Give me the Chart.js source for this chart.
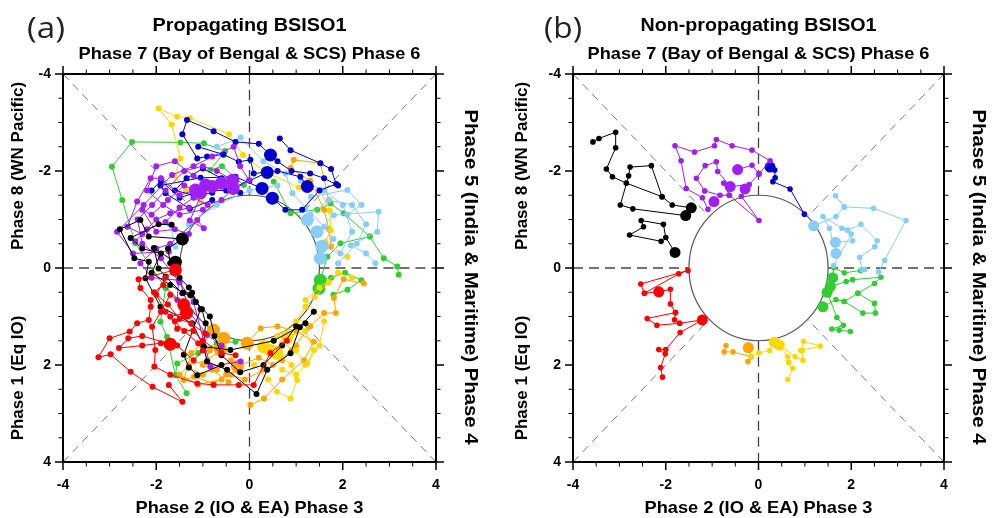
<!DOCTYPE html>
<html>
<head>
<meta charset="utf-8">
<script src="https://cdn.jsdelivr.net/npm/chart.js@4.4.1/dist/chart.umd.min.js"></script>
<style>
html, body { margin: 0; padding: 0; background: #fff; }
#wrap { position: relative; width: 992px; height: 518px; }
canvas { position: absolute; top: 0; }
#cA { left: 0; }
#cB { left: 496px; }
</style>
</head>
<body>
<div id="wrap">
  <canvas id="cA" width="496" height="518"></canvas>
  <canvas id="cB" width="496" height="518"></canvas>
</div>
<script>
// axis setup
const axisMin = -4, axisMax = 4;
const tickValues = [-4, -2, 0, 2, 4];
const minorStep = 0.5;
const innerRadius = 1.5;

// phase colours
const cRed = '#ff0000', cOrange = '#ffa500', cGold = '#ffd700', cGreen = '#32cd32';
const cSky = '#87cefa', cBlue = '#0000cd', cPurple = '#a020f0', cBlack = '#000000';

// ---- (a) propagating: tracks [RMM1, RMM2] and big start dots ----
const aRedTracks = [
  [[-1.59,0.04],[-2.38,0.23],[-2.34,0.41],[-2.12,0.66],[-2.12,0.80],[-2.16,1.07],[-2.41,1.14],[-2.57,1.31],[-3.00,1.45],[-3.24,1.84],[-2.98,1.78],[-2.55,2.14],[-2.08,2.45],[-1.44,2.76],[-1.73,2.41]],
  [[-1.41,0.76],[-1.70,0.55],[-1.90,0.90],[-2.09,1.21],[-2.02,1.69],[-2.04,2.03],[-1.70,2.20],[-1.12,2.38],[-0.77,2.41],[-0.23,2.41],[0.09,2.41],[0.45,1.75],[0.80,1.50]],
  [[-1.70,1.57],[-2.30,1.40],[-2.60,1.45],[-2.80,1.65],[-2.30,1.60],[-1.90,1.55],[-1.55,1.60],[-1.20,1.90],[-1.00,1.70]],
  [[-1.35,0.93],[-1.70,1.00],[-1.55,1.25],[-1.20,1.30],[-1.00,1.50],[-0.60,1.75],[-0.30,1.80]],
  [[-1.41,0.76],[-1.85,0.35],[-2.05,0.50],[-1.75,0.75],[-1.50,1.05],[-1.25,1.15],[-0.95,1.35]],
  [[-1.59,0.04],[-1.80,0.20],[-2.00,0.55],[-1.80,0.90],[-1.60,1.10],[-1.40,1.30],[-1.10,1.55]]
];
const aRedBig = [[-1.59,0.04],[-1.41,0.76],[-1.35,0.93],[-1.70,1.57]];

const aOrangeTracks = [
  [[-0.77,1.28],[-1.00,1.55],[-1.25,1.75],[-1.41,2.31],[-1.19,2.24],[-0.77,2.38],[-0.50,2.20],[-0.20,2.10]],
  [[-0.62,1.69],[-0.90,1.90],[-1.30,2.00],[-1.50,2.20],[-1.10,2.40],[-0.60,2.30]],
  [[-0.05,1.55],[0.24,1.24],[0.60,1.20],[1.00,1.30],[1.38,1.52],[1.17,1.90],[0.70,2.30],[0.31,2.69],[0.02,2.82]],
  [[-0.26,2.03],[0.20,1.85],[0.50,2.00],[0.90,1.70],[1.30,1.20],[1.60,0.93],[1.85,0.93],[1.81,0.62],[2.02,0.23],[2.45,0.32]],
  [[1.70,-1.40],[1.52,-2.16],[0.95,-2.23],[0.88,-2.06],[1.30,-1.80],[1.60,-1.20],[1.70,-0.80],[1.75,-0.45]],
  [[-0.55,1.45],[-0.85,1.70],[-1.00,2.00],[-0.70,2.10],[-0.40,1.90]],
  [[-0.40,2.20],[-0.10,2.30],[0.30,2.10],[0.70,1.90],[1.00,1.60]],
  [[-1.30,2.05],[-1.00,2.20],[-0.80,2.10],[-0.45,2.35]]
];
const aOrangeBig = [[-0.77,1.28],[-0.62,1.69],[-0.26,2.03],[-0.05,1.55],[-0.55,1.45]];

const aGoldTracks = [
  [[0.59,1.76],[0.90,2.00],[1.02,2.31],[0.88,2.69],[0.59,2.55],[0.40,2.30],[0.10,2.00]],
  [[0.81,1.42],[1.20,1.30],[1.38,1.69],[1.24,1.97],[1.50,1.60],[1.60,1.10],[1.20,0.66],[1.50,0.40],[1.90,0.10],[2.20,0.20]],
  [[0.30,1.62],[0.60,1.40],[1.00,1.10],[1.20,0.80],[1.40,0.60],[1.70,0.30]],
  [[2.10,-0.23],[1.63,-0.54],[1.74,-0.78],[1.72,-1.18],[1.52,-1.61],[1.06,-1.66],[0.30,-2.00],[-0.14,-2.33],[-0.44,-2.76],[-1.28,-3.09],[-1.55,-3.12],[-1.95,-3.29],[-1.67,-2.96],[-1.48,-2.26],[-1.61,-1.90],[-1.37,-1.61],[-1.05,-1.38]],
  [[0.45,1.70],[0.70,1.55],[1.00,1.70],[1.20,2.00],[1.00,2.20],[0.70,2.10]]
];
const aGoldBig = [[0.59,1.76],[0.81,1.42],[0.30,1.62],[0.45,1.70]];

const aGreenTracks = [
  [[1.52,0.25],[1.67,-0.23],[1.95,-0.51],[2.58,-0.65],[2.88,-0.20],[3.17,-0.03],[3.20,0.14]],
  [[1.49,0.42],[1.75,0.20],[2.05,0.10],[2.40,0.25],[2.10,0.45],[1.80,0.55]],
  [[-1.35,2.58],[-1.59,2.21],[-1.77,1.42],[-1.91,1.11],[-1.80,0.42],[-2.45,-0.51],[-2.73,-1.40],[-2.95,-2.09],[-2.52,-2.60],[-1.48,-2.59],[-0.98,-2.57],[-0.52,-2.41],[-0.84,-2.02],[-0.59,-2.10],[-0.12,-1.71]],
  [[2.58,-0.65],[2.02,-1.13],[1.74,-1.33],[1.45,-1.20],[0.88,-1.13],[0.52,-1.78]],
  [[-1.59,2.21],[-1.55,1.97],[-1.10,1.75],[-0.70,1.55],[-0.30,1.52]]
];
const aGreenBig = [[1.52,0.25],[1.49,0.42]];

const aSkyTracks = [
  [[1.45,-0.75],[1.81,-1.09],[2.77,-1.16],[2.74,-0.75],[2.17,-0.47],[2.50,-0.30],[2.70,-0.10]],
  [[1.24,-0.99],[1.20,-1.23],[1.32,-1.47],[2.10,-1.61],[2.40,-1.30],[2.10,-1.10]],
  [[1.52,-0.20],[1.80,-0.60],[1.60,-0.85],[0.92,-1.54],[0.77,-1.95],[0.30,-2.20],[-0.19,-2.69],[-0.70,-2.50]],
  [[-1.70,-0.89],[-1.59,-0.44],[-1.30,-0.90],[-0.70,-1.30],[0.00,-1.60],[0.60,-1.70]],
  [[1.55,-0.45],[1.95,-0.30],[2.20,-0.75],[2.00,-1.30],[1.60,-1.60],[1.10,-1.80]],
  [[1.30,-1.10],[1.70,-1.40],[2.20,-1.30],[2.50,-0.90],[2.30,-0.50],[1.90,-0.10]]
];
const aSkyBig = [[1.45,-0.75],[1.24,-0.99],[1.52,-0.20],[1.55,-0.45]];

const aBlueTracks = [
  [[0.45,-2.33],[0.20,-2.56],[-0.30,-2.60],[-0.77,-2.82],[-1.34,-3.05],[-1.44,-2.76],[-1.12,-2.26],[-0.91,-2.30],[-0.56,-2.34]],
  [[0.27,-1.64],[-0.30,-1.88],[-1.05,-1.86],[-1.91,-1.70],[-1.80,-1.54],[-1.28,-1.22],[-0.80,-1.40]],
  [[0.49,-1.44],[0.77,-1.20],[1.13,-1.20],[1.50,-1.60],[1.86,-1.73],[1.75,-2.04],[1.52,-2.16],[0.88,-2.43],[0.65,-2.67]],
  [[1.24,-1.68],[1.09,-1.88],[0.60,-2.00],[0.09,-1.95],[0.02,-2.23],[-0.23,-2.19],[-0.56,-2.34],[-1.10,-2.50]],
  [[0.38,-1.97],[0.00,-1.80],[-0.50,-1.60],[-1.00,-1.60],[-1.50,-1.45],[-1.90,-1.80],[-2.10,-1.60]],
  [[-0.20,-1.55],[-0.60,-1.85],[-1.00,-2.05],[-1.35,-1.85],[-1.60,-1.60],[-1.20,-1.50],[-0.80,-1.55]],
  [[0.60,-2.20],[0.90,-2.00],[1.30,-1.95],[1.60,-1.85],[1.90,-1.70]]
];
const aBlueBig = [[0.45,-2.33],[0.27,-1.64],[0.49,-1.44],[1.24,-1.68],[0.38,-1.97]];

const aPurpleTracks = [
  [[-1.16,-1.61],[-1.50,-1.50],[-1.90,-1.85],[-2.12,-1.85],[-2.41,-1.37],[-2.62,-0.85],[-2.30,-0.70],[-2.00,-1.00],[-1.70,-1.13],[-1.30,-1.25]],
  [[-0.94,-1.71],[-1.28,-0.98],[-0.98,-0.82],[-1.12,-0.99],[-1.70,-0.50],[-2.00,-0.40],[-2.34,-0.10],[-2.10,0.20],[-1.52,0.25],[-1.55,0.66],[-1.30,0.90],[-0.91,1.38],[-0.60,1.60]],
  [[-0.60,-1.75],[-0.34,-1.61],[-0.01,-1.81],[-0.20,-2.10],[-0.34,-2.50],[-0.80,-2.30],[-1.20,-2.10],[-1.66,-1.92],[-2.27,-1.30],[-2.84,-0.75],[-2.50,-0.30],[-1.73,-0.34]],
  [[-0.36,-1.81],[-0.70,-2.00],[-1.00,-2.10],[-1.40,-2.00],[-1.80,-1.60],[-2.09,-1.30],[-2.40,-1.00],[-2.30,-0.50],[-1.90,-0.20],[-1.50,0.30],[-1.20,0.70],[-0.84,2.03],[-0.19,1.93]],
  [[-0.80,-1.68],[-1.20,-1.90],[-1.60,-2.20],[-2.00,-2.10],[-2.20,-1.60],[-1.85,-1.30],[-1.50,-1.10],[-1.00,-1.20]],
  [[-1.05,-1.55],[-1.40,-1.70],[-1.75,-1.40],[-2.10,-1.10],[-2.30,-1.20],[-2.00,-0.75],[-1.60,-0.80],[-1.30,-0.70]],
  [[-0.35,-1.64],[-0.60,-1.40],[-0.90,-1.30],[-1.20,-1.45],[-1.50,-1.25],[-1.80,-0.95],[-2.20,-0.80],[-2.45,-0.55]]
];
const aPurpleBig = [[-1.16,-1.61],[-0.94,-1.71],[-0.60,-1.75],[-0.36,-1.81],[-0.80,-1.68],[-1.05,-1.55],[-0.35,-1.64]];

const aBlackTracks = [
  [[-1.44,-0.60],[-2.16,-0.65],[-2.34,-0.99],[-2.78,-0.80],[-2.47,-0.20],[-2.16,-0.13],[-2.23,0.21],[-1.91,0.80],[-1.23,1.14],[-0.98,1.62],[-0.91,1.93],[-0.48,2.10],[0.15,2.60],[0.38,2.10],[0.88,1.76],[1.08,1.22],[1.38,0.90]],
  [[-1.59,-0.12],[-2.05,-0.41],[-1.95,0.01],[-1.80,0.18],[-1.44,0.52],[-1.27,0.56],[-1.02,0.85],[-0.94,1.14],[-0.99,1.62],[-0.41,1.69],[0.52,1.50],[1.20,1.14]],
  [[-1.67,-0.89],[-1.95,-0.90],[-2.55,-0.62],[-2.30,-0.40],[-1.90,-0.30],[-2.10,0.10],[-1.70,0.35],[-1.42,0.51],[-1.23,0.51],[-1.05,0.85],[-1.41,1.79],[-1.30,2.05],[-1.12,2.21],[-0.60,2.00]],
  [[-1.44,-0.60],[-1.75,-0.40],[-1.70,-0.10],[-1.50,0.20],[-1.30,0.40],[-1.15,0.70],[-0.85,1.00],[-0.75,1.40],[-0.60,1.80],[-0.20,2.15],[0.30,2.00],[0.70,1.60],[1.00,1.20]]
];
const aBlackBig = [[-1.44,-0.60],[-1.59,-0.12]];

// ---- (b) non-propagating ----
const bRedTracks = [
  [[-2.15,0.49],[-2.46,0.52],[-2.54,0.33],[-1.52,0.05],[-1.72,0.12],[-2.46,0.52]],
  [[-1.21,1.07],[-1.70,1.14],[-1.81,1.07],[-1.79,0.92],[-1.90,0.74],[-1.90,0.44],[-2.15,0.49]],
  [[-1.21,1.07],[-1.69,1.33],[-2.00,1.68],[-2.15,1.68],[-2.01,1.77],[-2.11,2.05],[-2.07,2.25]],
  [[-1.79,0.92],[-2.40,1.04],[-2.19,1.18],[-1.70,1.14]]
];
const bRedBig = [[-2.15,0.49],[-1.21,1.07]];

const bOrangeTracks = [
  [[-0.22,1.64],[-0.16,1.83],[-0.23,1.93]],
  [[-0.16,1.83],[-0.55,1.73],[-0.74,1.73],[-0.70,1.60]]
];
const bOrangeBig = [[-0.22,1.64]];

const bGoldTracks = [
  [[0.34,1.53],[0.24,1.70],[0.01,1.75],[-0.16,1.83]],
  [[0.45,1.59],[0.63,1.83],[0.65,1.95],[0.74,2.07],[0.63,2.30]],
  [[0.45,1.59],[0.79,1.83],[0.96,1.90],[0.94,1.70],[0.97,1.51],[1.33,1.61],[0.91,1.70]]
];
const bGoldBig = [[0.34,1.53],[0.45,1.59]];

const bGreenTracks = [
  [[1.39,0.80],[1.67,0.65],[1.85,0.69],[2.14,0.52],[2.50,0.73],[2.52,0.93],[2.25,0.93],[1.85,0.69]],
  [[1.55,0.38],[1.89,0.28],[2.03,0.24],[2.64,0.19],[2.50,0.32],[2.14,0.52]],
  [[1.48,0.50],[1.69,1.02],[1.83,1.18],[1.58,1.26],[1.74,1.28],[1.98,1.31]],
  [[1.60,0.20],[1.62,-0.01],[1.85,0.10],[2.20,0.05]]
];
const bGreenBig = [[1.60,0.20],[1.55,0.38],[1.48,0.50],[1.39,0.80]];

const bSkyTracks = [
  [[1.19,-0.87],[1.67,-1.06],[1.85,-1.26],[1.66,-1.49],[1.85,-1.26],[2.48,-1.23],[3.18,-0.98],[2.72,-0.16],[2.59,0.08]],
  [[1.66,-0.53],[2.03,-0.56],[1.92,-0.78],[2.21,-0.90],[2.56,-0.56],[2.51,-0.44],[2.18,-0.22],[2.23,0.03],[2.29,0.03]],
  [[1.67,-0.30],[1.53,-0.82],[1.39,-1.06],[1.80,-0.82],[2.00,-0.70],[1.62,-0.05]]
];
const bSkyBig = [[1.19,-0.87],[1.66,-0.53],[1.67,-0.30]];

const bBlueTracks = [
  [[0.25,-2.08],[0.35,-2.02],[0.36,-1.86],[0.31,-1.78],[0.68,-1.63],[0.99,-1.11]]
];
const bBlueBig = [[0.25,-2.08]];

const bPurpleTracks = [
  [[-0.96,-1.37],[-1.09,-1.21],[-1.21,-1.45],[-1.56,-1.64],[-1.67,-2.21],[-1.80,-2.52],[-1.38,-2.39],[-0.95,-2.52],[-0.91,-2.65],[-0.57,-2.52],[-0.14,-2.43],[0.25,-2.21],[0.01,-1.94]],
  [[-0.61,-1.68],[-0.88,-1.99],[-0.91,-2.19],[-1.15,-2.11],[-1.34,-1.85],[-1.16,-1.59],[-0.83,-1.50],[-0.63,-1.50]],
  [[-0.29,-1.63],[-0.37,-1.48],[0.01,-0.98],[-0.63,-1.50],[-0.75,-1.75]],
  [[-0.45,-2.03],[-0.14,-2.12],[0.01,-1.94],[-0.20,-1.72],[-0.61,-1.68]]
];
const bPurpleBig = [[-0.96,-1.37],[-0.61,-1.68],[-0.29,-1.63],[-0.45,-2.03]];

const bBlackTracks = [
  [[-1.45,-1.24],[-1.86,-1.30],[-2.08,-1.47],[-2.85,-1.75],[-3.15,-1.88],[-3.28,-2.04],[-3.08,-2.48],[-3.08,-2.80],[-3.44,-2.67],[-3.57,-2.60]],
  [[-1.57,-1.08],[-2.71,-1.22],[-2.98,-1.30],[-2.80,-1.90],[-2.77,-2.08],[-2.31,-2.11],[-2.08,-1.47]],
  [[-1.80,-0.32],[-2.00,-0.63],[-2.05,-0.90],[-2.53,-0.98],[-2.48,-0.85],[-2.78,-0.68],[-2.10,-0.55]]
];
const bBlackBig = [[-1.45,-1.24],[-1.57,-1.08],[-1.80,-0.32]];

function buildSets(groups, small, big) {
  const sets = [];
  groups.forEach(([color, tracks, starts]) => {
    tracks.forEach(t => sets.push({
      data: t.map(([x, y]) => ({x, y})),
      showLine: true, borderColor: color, backgroundColor: color,
      borderWidth: 1, pointRadius: small, pointBorderWidth: 0
    }));
    sets.push({
      data: starts.map(([x, y]) => ({x, y})),
      showLine: false, backgroundColor: color, borderColor: color,
      pointRadius: big, pointBorderWidth: 0
    });
  });
  return sets;
}

function fitText(ctx, txt, x, y, w, font, rot) {
  ctx.save();
  ctx.font = font;
  const m = ctx.measureText(txt).width;
  ctx.translate(x, y);
  ctx.rotate(rot || 0);
  if (w) ctx.scale(w / m, 1);
  ctx.textAlign = 'center';
  ctx.fillText(txt, 0, 0);
  ctx.restore();
}

const phasePlot = {
  id: 'phasePlot',
  beforeDatasetsDraw(chart, args, o) {
    const {ctx, scales: {x, y}} = chart;
    const px = v => x.getPixelForValue(v), py = v => y.getPixelForValue(v);
    const seg = (x1, y1, x2, y2) => { ctx.beginPath(); ctx.moveTo(px(x1), py(y1)); ctx.lineTo(px(x2), py(y2)); ctx.stroke(); };
    ctx.save();
    ctx.setLineDash([10, 6]); ctx.strokeStyle = '#444'; ctx.lineWidth = 1.3;
    seg(0, axisMin, 0, -innerRadius); seg(0, innerRadius, 0, axisMax);
    seg(axisMin, 0, -innerRadius, 0); seg(innerRadius, 0, axisMax, 0);
    ctx.setLineDash([8, 6]); ctx.strokeStyle = '#777'; ctx.lineWidth = 1;
    const d = innerRadius / Math.SQRT2;
    [-1, 1].forEach(sx => [-1, 1].forEach(sy => seg(sx * axisMax, sy * axisMax, sx * d, sy * d)));
    ctx.setLineDash([]); ctx.strokeStyle = '#555'; ctx.lineWidth = 1.2;
    ctx.beginPath();
    ctx.ellipse(px(0), py(0), px(innerRadius) - px(0), py(innerRadius) - py(0), 0, 0, 2 * Math.PI);
    ctx.stroke();
    ctx.restore();
  },
  afterDraw(chart, args, o) {
    const {ctx, chartArea: a, scales: {x, y}} = chart;
    ctx.save();
    ctx.strokeStyle = '#000'; ctx.fillStyle = '#000';
    // ticks, outward on all four sides
    for (let v = axisMin; v <= axisMax + 1e-9; v += minorStep) {
      const major = tickValues.includes(v);
      const len = major ? 8 : 4.5;
      ctx.lineWidth = major ? 1.5 : 1;
      const X = x.getPixelForValue(v), Y = y.getPixelForValue(v);
      ctx.beginPath();
      ctx.moveTo(X, a.top); ctx.lineTo(X, a.top - len);
      ctx.moveTo(X, a.bottom); ctx.lineTo(X, a.bottom + len);
      ctx.moveTo(a.left, Y); ctx.lineTo(a.left - len, Y);
      ctx.moveTo(a.right, Y); ctx.lineTo(a.right + len, Y);
      ctx.stroke();
    }
    ctx.lineWidth = 2;
    ctx.strokeRect(a.left, a.top, a.right - a.left, a.bottom - a.top);
    // tick labels
    ctx.font = 'bold 14px "Liberation Sans", Arial, sans-serif';
    ctx.textBaseline = 'middle';
    ctx.textAlign = 'center';
    tickValues.forEach(v => ctx.fillText(String(v), x.getPixelForValue(v), a.bottom + 23));
    ctx.textAlign = 'right';
    tickValues.forEach(v => ctx.fillText(String(v), a.left - 12, y.getPixelForValue(v)));
    // texts
    const cx = (a.left + a.right) / 2;
    ctx.textBaseline = 'alphabetic';
    const f = 'bold 17px "Liberation Sans", Arial, sans-serif';
    fitText(ctx, o.title, cx, 31, o.titleW, 'bold 19px "Liberation Sans", Arial, sans-serif');
    fitText(ctx, 'Phase 7 (Bay of Bengal & SCS) Phase 6', cx, 59, 342, f);
    fitText(ctx, 'Phase 2 (IO & EA) Phase 3', cx, 513, 228, f);
    ctx.textBaseline = 'middle';
    fitText(ctx, 'Phase 8 (WN Pacific)', o.yLabX, 166, 0, f, -Math.PI / 2);
    fitText(ctx, 'Phase 1 (Eq IO)', o.yLabX, 378, 0, f, -Math.PI / 2);
    fitText(ctx, 'Phase 5 (India & Maritime) Phase 4', a.right + 34, 277, 335, 'bold 18px "Liberation Sans", Arial, sans-serif', Math.PI / 2);
    ctx.fillStyle = '#222';
    ctx.textBaseline = 'alphabetic';
    fitText(ctx, o.letter, o.letterX, 38, 38, '29px "Open Sans", "DejaVu Sans", sans-serif');
    ctx.restore();
  }
};

function makeChart(id, pad, groups, opts, small, big) {
  return new Chart(document.getElementById(id), {
    type: 'scatter',
    data: {datasets: buildSets(groups, small, big)},
    options: {
      responsive: false, animation: false, events: [],
      layout: {padding: pad},
      scales: {
        x: {type: 'linear', min: axisMin, max: axisMax, display: false},
        y: {type: 'linear', min: axisMin, max: axisMax, reverse: true, display: false}
      },
      plugins: {legend: {display: false}, tooltip: {enabled: false}, phasePlot: opts}
    },
    plugins: [phasePlot]
  });
}

makeChart('cA', {left: 63, right: 60, top: 74, bottom: 56}, [
  [cRed, aRedTracks, aRedBig], [cBlack, aBlackTracks, aBlackBig], [cPurple, aPurpleTracks, aPurpleBig],
  [cBlue, aBlueTracks, aBlueBig], [cSky, aSkyTracks, aSkyBig], [cGold, aGoldTracks, aGoldBig],
  [cOrange, aOrangeTracks, aOrangeBig], [cGreen, aGreenTracks, aGreenBig]
], {letter: '(a)', letterX: 46, title: 'Propagating BSISO1', titleW: 194, yLabX: 18}, 3, 6.5);

makeChart('cB', {left: 77, right: 48, top: 74, bottom: 56}, [
  [cRed, bRedTracks, bRedBig], [cBlack, bBlackTracks, bBlackBig], [cPurple, bPurpleTracks, bPurpleBig],
  [cBlue, bBlueTracks, bBlueBig], [cSky, bSkyTracks, bSkyBig], [cGold, bGoldTracks, bGoldBig],
  [cOrange, bOrangeTracks, bOrangeBig], [cGreen, bGreenTracks, bGreenBig]
], {letter: '(b)', letterX: 67, title: 'Non-propagating BSISO1', titleW: 236, yLabX: 26}, 2.8, 5.5);
</script>
</body>
</html>
